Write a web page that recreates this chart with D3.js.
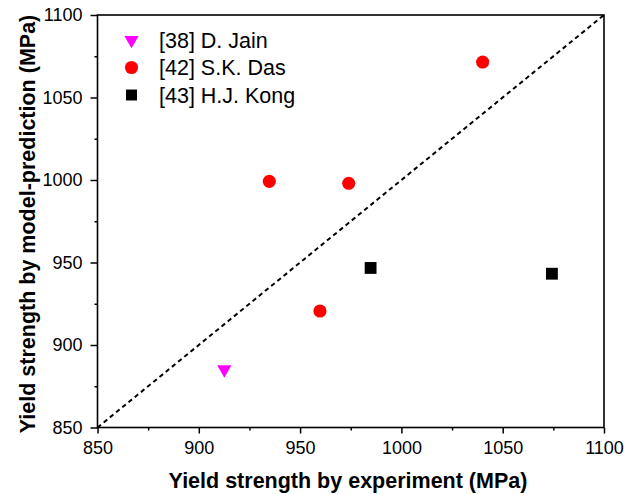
<!DOCTYPE html>
<html>
<head>
<meta charset="utf-8">
<script src="https://cdn.jsdelivr.net/npm/d3@7"></script>
<style>
  html, body { margin: 0; padding: 0; background: #fff; }
  svg text { font-family: Arial, "Liberation Sans", sans-serif; fill: #000; }
</style>
</head>
<body>
<svg id="chart" width="634" height="494"></svg>
<script>
// Data: experiment (x) vs model prediction (y), MPa
const jainX = [912.6];
const jainY = [885.2];
const dasX = [934.8, 974.0, 959.8, 1040.1];
const dasY = [999.2, 998.0, 920.6, 1071.5];
const kongX = [984.8, 1074.3];
const kongY = [946.7, 943.2];

const seriesNames = ['[38] D. Jain', '[42] S.K. Das', '[43] H.J. Kong'];
const majorTicks = [850, 900, 950, 1000, 1050, 1100];
const minorTicks = [875, 925, 975, 1025, 1075];

const svg = d3.select('#chart');
const plotL = 97.5, plotR = 604, plotT = 15, plotB = 427.5;

const x = d3.scaleLinear().domain([850, 1100]).range([plotL, plotR]);
const y = d3.scaleLinear().domain([850, 1100]).range([plotB, plotT]);

// y = x reference line
svg.append('line')
  .attr('x1', x(850)).attr('y1', y(850))
  .attr('x2', x(1100)).attr('y2', y(1100))
  .attr('stroke', '#000').attr('stroke-width', 2)
  .attr('stroke-dasharray', '4.5,3.5');

// axes with outward ticks
const xAxis = svg.append('g').attr('transform', `translate(0,${plotB})`)
  .call(d3.axisBottom(x).tickValues(majorTicks).tickSize(6).tickPadding(8).tickFormat(d3.format('d')));
const xMinor = svg.append('g').attr('transform', `translate(0,${plotB})`)
  .call(d3.axisBottom(x).tickValues(minorTicks).tickSize(3).tickFormat(''));
const yAxis = svg.append('g').attr('transform', `translate(${plotL},0)`)
  .call(d3.axisLeft(y).tickValues(majorTicks).tickSize(7).tickPadding(8).tickFormat(d3.format('d')));
const yMinor = svg.append('g').attr('transform', `translate(${plotL},0)`)
  .call(d3.axisLeft(y).tickValues(minorTicks).tickSize(3).tickFormat(''));

[xAxis, xMinor, yAxis, yMinor].forEach(g => {
  g.select('.domain').remove();
  g.selectAll('line').attr('stroke', '#000').attr('stroke-width', 1.5);
  g.selectAll('text').attr('font-size', 18).attr('fill', '#000');
});
xAxis.selectAll('text').attr('dy', '0.72em');

// frame
svg.append('rect')
  .attr('x', plotL).attr('y', plotT)
  .attr('width', plotR - plotL).attr('height', plotB - plotT)
  .attr('fill', 'none').attr('stroke', '#000').attr('stroke-width', 1.6);

// markers
const sym = (type, size) => d3.symbol().type(type).size(size);
const plot = (xs, ys, type, size, color, rot) => {
  svg.append('g').selectAll('path').data(xs).join('path')
    .attr('d', sym(type, size)())
    .attr('transform', (d, i) => `translate(${x(d)},${y(ys[i])}) rotate(${rot})`)
    .attr('fill', color);
};
plot(jainX, jainY, d3.symbolTriangle, 88, '#ff00ff', 180);
plot(dasX, dasY, d3.symbolCircle, 135, '#ff0000', 0);
plot(kongX, kongY, d3.symbolSquare, 140, '#000000', 0);

// legend
const legendSyms = [
  { type: d3.symbolTriangle, size: 88, color: '#ff00ff', rot: 180 },
  { type: d3.symbolCircle, size: 135, color: '#ff0000', rot: 0 },
  { type: d3.symbolSquare, size: 120, color: '#000000', rot: 0 }
];
const legend = svg.append('g');
seriesNames.forEach((name, i) => {
  const cy = 40 + i * 27.5;
  const s = legendSyms[i];
  legend.append('path')
    .attr('d', sym(s.type, s.size)())
    .attr('transform', `translate(131.5,${cy}) rotate(${s.rot})`)
    .attr('fill', s.color);
  legend.append('text')
    .attr('x', 159).attr('y', cy + 7.5)
    .attr('font-size', 21.5)
    .text(name);
});

// axis titles
svg.append('text')
  .attr('x', 348).attr('y', 488)
  .attr('text-anchor', 'middle')
  .attr('font-size', 21.5).attr('font-weight', 'bold')
  .text('Yield strength by experiment (MPa)');

svg.append('text')
  .attr('transform', `translate(35,224) rotate(-90)`)
  .attr('text-anchor', 'middle')
  .attr('font-size', 21.5).attr('font-weight', 'bold')
  .text('Yield strength by model-prediction (MPa)');
</script>
</body>
</html>
